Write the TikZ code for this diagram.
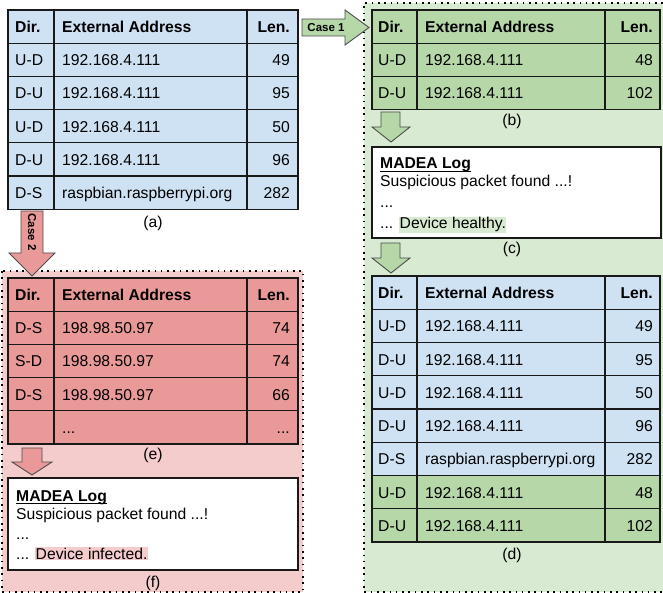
\documentclass[tikz,border=0pt]{standalone}
\usepackage{fontspec}
\setmainfont{Liberation Sans}
\usetikzlibrary{positioning}
\definecolor{rowblue}{HTML}{CFE2F3}
\definecolor{rowgreen}{HTML}{B6D7A8}
\definecolor{rowred}{HTML}{EA9999}
\definecolor{panelgreen}{HTML}{D9EAD3}
\definecolor{panelred}{HTML}{F4CCCC}
\setlength{\fboxsep}{0.6pt}
\newcommand{\rowdots}{...}

\begin{document}
\begin{tikzpicture}[x=1pt, y=-1pt, every node/.style={font=\fontsize{15.7}{18}\selectfont, inner sep=0pt},
  cell/.style={draw=black!90, line width=1.3pt},
  panel/.style={line width=1.6pt, dash pattern=on 1.6pt off 4.7pt},
  blockarrow/.style={draw=black!70, line width=0.9pt},
  logbox/.style={draw=black!90, fill=white, line width=1.3pt},
  casetext/.style={font=\fontsize{11.5}{13}\selectfont\bfseries}]
  \useasboundingbox (0,0) rectangle (663,593);

  % Panels
  \fill[panelgreen] (364,3) rectangle (663,592);
  \draw[panel] (663,3) -- (364,3) -- (364,592) -- (663,592);
  \fill[panelred] (2,271) rectangle (303,592);
  \draw[panel] (2,271) rectangle (303,592);

  % Table (a)
  \foreach \c/\dir/\addr/\len [count=\r from 0] in {rowblue/\textbf{Dir.}/\textbf{External Address}/\textbf{Len.},
      rowblue/U-D/192.168.4.111/49, rowblue/D-U/192.168.4.111/95, rowblue/U-D/192.168.4.111/50,
      rowblue/D-U/192.168.4.111/96, rowblue/D-S/raspbian.raspberrypi.org/282} {
    \draw[cell, fill=\c] (8,{10+\r*33.2}) rectangle (298,{43.2+\r*33.2});
    \draw[cell] (54,{10+\r*33.2}) -- (54,{43.2+\r*33.2}) (247,{10+\r*33.2}) -- (247,{43.2+\r*33.2});
    \node[anchor=base west] (a-dir-\r) at (15,{32.5+\r*33.2}) {\dir};
    \node[anchor=base west] (a-addr-\r) at (62,{32.5+\r*33.2}) {\addr};
    \node[anchor=base east] (a-len-\r) at (290,{32.5+\r*33.2}) {\len};
  }
  \node (lbl-a) at (153,223) {(a)};

  % Case 1
  \draw[blockarrow, fill=rowgreen] (302,19) -- (345,19) -- (345,10) -- (369,27.5) -- (345,45) -- (345,36) -- (302,36) -- cycle;
  \node[casetext] (case1) at (326,27.5) {Case 1};

  % Table (b)
  \foreach \c/\dir/\addr/\len [count=\r from 0] in {rowgreen/\textbf{Dir.}/\textbf{External Address}/\textbf{Len.},
      rowgreen/U-D/192.168.4.111/48, rowgreen/D-U/192.168.4.111/102} {
    \draw[cell, fill=\c] (372,{10+\r*33.2}) rectangle (660,{43.2+\r*33.2});
    \draw[cell] (417,{10+\r*33.2}) -- (417,{43.2+\r*33.2}) (605,{10+\r*33.2}) -- (605,{43.2+\r*33.2});
    \node[anchor=base west] (b-dir-\r) at (378,{32.5+\r*33.2}) {\dir};
    \node[anchor=base west] (b-addr-\r) at (425,{32.5+\r*33.2}) {\addr};
    \node[anchor=base east] (b-len-\r) at (653,{32.5+\r*33.2}) {\len};
  }
  \node (lbl-b) at (512,121) {(b)};

  % Arrows inside the green panel
  \foreach \y in {112, 243} {
    \draw[blockarrow, fill=rowgreen] (381,\y) -- (400,\y) -- (400,\y+15) -- (410,\y+15) -- (391,\y+30) -- (372,\y+15) -- (381,\y+15) -- cycle;
  }

  % Log (c)
  \draw[logbox] (372,147) rectangle (661,238);
  \node[anchor=base west, font=\fontsize{15.7}{18}\selectfont\bfseries] (logc-title) at (380,169) {MADEA Log};
  \draw[line width=1.2pt] ([yshift=-2.8pt]logc-title.base west) -- ([yshift=-2.8pt]logc-title.base east);
  \node[anchor=base west] (logc-1) at (380,187) {Suspicious packet found ...!};
  \node[anchor=base west] (logc-2) at (380,208) {...};
  \node[anchor=base west] (logc-3) at (380,229) {... \colorbox{panelgreen}{Device healthy.}};
  \node (lbl-c) at (512,249) {(c)};

  % Table (d)
  \foreach \c/\dir/\addr/\len [count=\r from 0] in {rowblue/\textbf{Dir.}/\textbf{External Address}/\textbf{Len.},
      rowblue/U-D/192.168.4.111/49, rowblue/D-U/192.168.4.111/95, rowblue/U-D/192.168.4.111/50,
      rowblue/D-U/192.168.4.111/96, rowblue/D-S/raspbian.raspberrypi.org/282,
      rowgreen/U-D/192.168.4.111/48, rowgreen/D-U/192.168.4.111/102} {
    \draw[cell, fill=\c] (372,{276+\r*33.25}) rectangle (660,{309.25+\r*33.25});
    \draw[cell] (417,{276+\r*33.25}) -- (417,{309.25+\r*33.25}) (605,{276+\r*33.25}) -- (605,{309.25+\r*33.25});
    \node[anchor=base west] (d-dir-\r) at (378,{298.5+\r*33.25}) {\dir};
    \node[anchor=base west] (d-addr-\r) at (425,{298.5+\r*33.25}) {\addr};
    \node[anchor=base east] (d-len-\r) at (653,{298.5+\r*33.25}) {\len};
  }
  \node (lbl-d) at (512,555) {(d)};

  % Case 2
  \draw[blockarrow, fill=rowred] (21,211) -- (43,211) -- (43,253) -- (55,253) -- (32,276) -- (9,253) -- (21,253) -- cycle;
  \node[casetext, rotate=-90] (case2) at (32,232) {Case 2};

  % Table (e)
  \foreach \c/\dir/\addr/\len [count=\r from 0] in {rowred/\textbf{Dir.}/\textbf{External Address}/\textbf{Len.},
      rowred/D-S/198.98.50.97/74, rowred/S-D/198.98.50.97/74, rowred/D-S/198.98.50.97/66, rowred/{}/\rowdots/\rowdots} {
    \draw[cell, fill=\c] (8,{278+\r*33.2}) rectangle (298,{311.2+\r*33.2});
    \draw[cell] (54,{278+\r*33.2}) -- (54,{311.2+\r*33.2}) (247,{278+\r*33.2}) -- (247,{311.2+\r*33.2});
    \node[anchor=base west] (e-dir-\r) at (15,{300.5+\r*33.2}) {\dir};
    \node[anchor=base west] (e-addr-\r) at (62,{300.5+\r*33.2}) {\addr};
    \node[anchor=base east] (e-len-\r) at (290,{300.5+\r*33.2}) {\len};
  }
  \node (lbl-e) at (153,455) {(e)};

  \draw[blockarrow, fill=rowred] (22,448) -- (42,448) -- (42,462) -- (52,462) -- (32,475) -- (12,462) -- (22,462) -- cycle;

  % Log (f)
  \draw[logbox] (8,478) rectangle (298,570);
  \node[anchor=base west, font=\fontsize{15.7}{18}\selectfont\bfseries] (logf-title) at (16,501) {MADEA Log};
  \draw[line width=1.2pt] ([yshift=-2.8pt]logf-title.base west) -- ([yshift=-2.8pt]logf-title.base east);
  \node[anchor=base west] (logf-1) at (16,519) {Suspicious packet found ...!};
  \node[anchor=base west] (logf-2) at (16,539) {...};
  \node[anchor=base west] (logf-3) at (16,559) {... \colorbox{panelred}{Device infected.}};
  \node (lbl-f) at (153,583) {(f)};
\end{tikzpicture}
\end{document}
